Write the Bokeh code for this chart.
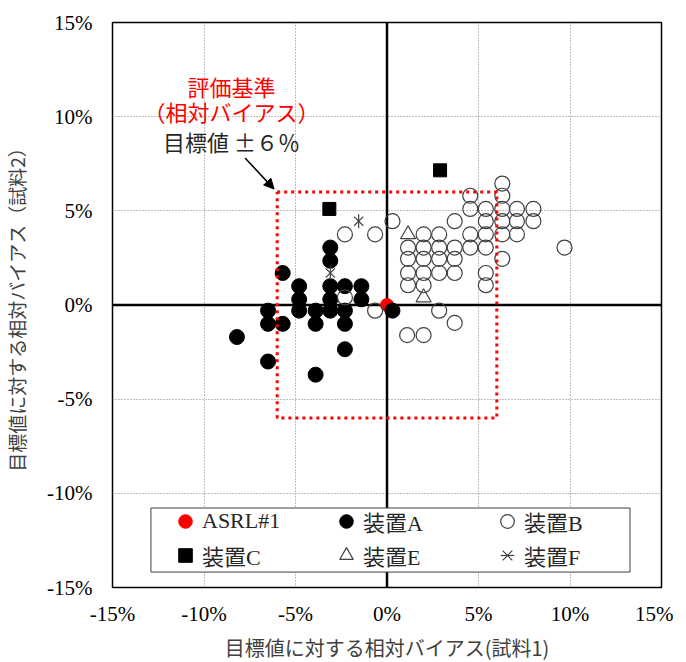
from bokeh.plotting import figure
from bokeh.models import (FixedTicker, Span, Legend, LegendItem, BoxAnnotation,
                          Label, Arrow, NormalHead, Range1d)
from bokeh.embed import file_html
from bokeh.resources import INLINE

# ---------------- data (relative bias, %) ----------------
asrl_x = [0.0]
asrl_y = [0.0]

a_x = [-5.7, -3.1, -3.1, -4.8, -4.8, -4.8, -3.1, -3.1, -3.1, -2.3, -2.3, -2.3,
       -2.3, -1.4, -1.4, -3.9, -3.9, -3.9, -6.5, -6.5, -5.7, -8.2, -6.5, 0.3]
a_y = [1.7, 3.05, 2.35, 1.0, 0.3, -0.3, 1.0, 0.3, -0.3, 1.0, -0.3, -1.0,
       -2.35, 1.0, 0.3, -0.3, -1.0, -3.7, -0.3, -1.0, -1.0, -1.7, -3.0, -0.3]

b_x = [-2.3, -0.65, 1.1, 2.0, -2.3, -0.65, 0.3, 3.7, 4.55, 4.55, 5.4, 6.3,
       6.3, 6.3, 6.3, 6.3, 6.3, 7.1, 7.1, 7.1, 8.0, 8.0, 5.4, 5.4,
       5.4, 5.4, 5.4, 4.55, 4.55, 3.7, 3.7, 3.7, 2.85, 2.85, 2.85, 2.85,
       2.0, 2.0, 2.0, 2.0, 2.0, 1.15, 1.15, 1.15, 1.15, 2.85, 3.7, 9.7]
b_y = [0.4, -0.3, -1.6, -1.6, 3.75, 3.75, 4.45, 4.45, 5.8, 5.1, 5.1, 6.45,
       5.8, 5.1, 4.45, 3.75, 2.45, 5.1, 4.45, 3.75, 5.1, 4.45, 4.45, 3.75,
       3.05, 1.7, 1.05, 3.75, 3.05, 3.05, 2.45, 1.7, 3.75, 3.05, 2.45, 1.7,
       3.75, 3.05, 2.45, 1.7, 1.05, 3.05, 2.45, 1.7, 1.05, -0.3, -0.95, 3.05]

c_x = [2.9, -3.15]
c_y = [7.15, 5.1]

e_x = [1.15, 2.0]
e_y = [3.75, 0.4]

f_x = [-1.55, -3.1]
f_y = [4.45, 1.7]

criterion = 6.0  # target +/- 6 %

ticks = [-15, -10, -5, 0, 5, 10, 15]
tick_labels = ["-15%", "-10%", "-5%", "0%", "5%", "10%", "15%"]
grid_ticks = [-10, -5, 5, 10]

series_names = ["ASRL#1", "装置A", "装置B", "装置C", "装置E", "装置F"]

x_title = "目標値に対する相対バイアス(試料1)"
y_title = "目標値に対する相対バイアス（試料2）"
note_lines = ["評価基準", "（相対バイアス）", "目標値 ±６％"]

# ---------------- figure ----------------
SERIF = "Liberation Serif, Noto Sans CJK JP"
CJK = "Noto Sans CJK JP"

p = figure(frame_width=549, frame_height=565,
           x_range=Range1d(-15, 15), y_range=Range1d(-15, 15),
           output_backend="svg", toolbar_location=None,
           min_border_left=109, min_border_right=12,
           min_border_top=22, min_border_bottom=60)
p.background_fill_color = "white"
p.border_fill_color = "white"
p.outline_line_color = "black"
p.outline_line_width = 1.5

overrides = {t: lab for t, lab in zip(ticks, tick_labels)}
for ax in (p.xaxis[0], p.yaxis[0]):
    ax.ticker = FixedTicker(ticks=ticks)
    ax.major_label_overrides = overrides
    ax.axis_line_color = None
    ax.major_tick_line_color = None
    ax.minor_tick_line_color = None
    ax.major_label_text_font = "Liberation Serif"
    ax.major_label_text_font_size = "21px"
    ax.major_label_text_color = "black"
    ax.axis_label_text_font = CJK
    ax.axis_label_text_font_style = "normal"
    ax.axis_label_text_color = "#404040"

p.xaxis.axis_label = x_title
p.yaxis.axis_label = y_title
p.xaxis.axis_label_text_font_size = "20px"
p.yaxis.axis_label_text_font_size = "19px"
p.xaxis.major_label_standoff = 8
p.yaxis.major_label_standoff = 14
p.xaxis.axis_label_standoff = 4
p.yaxis.axis_label_standoff = 14

for g in (p.xgrid[0], p.ygrid[0]):
    g.ticker = FixedTicker(ticks=grid_ticks)
    g.grid_line_color = "#7f7f7f"
    g.grid_line_dash = "1 2"
    g.grid_line_width = 1

p.add_layout(Span(location=0, dimension="height", line_color="black",
                  line_width=2.5, level="underlay"))
p.add_layout(Span(location=0, dimension="width", line_color="black",
                  line_width=2.5, level="underlay"))

# ---------------- series ----------------
r_asrl = p.scatter(asrl_x, asrl_y, marker="circle", size=13,
                   fill_color="#ff0000", line_color="#ff0000")
r_a = p.scatter(a_x, a_y, marker="circle", size=15,
                fill_color="black", line_color="black")
r_b = p.scatter(b_x, b_y, marker="circle", size=15,
                fill_color=None, line_color="#404040", line_width=1.2)
r_c = p.scatter(c_x, c_y, marker="square", size=13,
                fill_color="black", line_color="black")
r_e = p.scatter(e_x, e_y, marker="triangle", size=15,
                fill_color=None, line_color="#404040", line_width=1.2)
r_f1 = p.scatter(f_x, f_y, marker="x", size=13,
                 line_color="#404040", line_width=1.2)
r_f2 = p.scatter(f_x, f_y, marker="dash", size=14, angle=1.5708,
                 line_color="#404040", line_width=1.2)

# criterion box (+/- 6 %)
bx = [-criterion, criterion, criterion, -criterion, -criterion]
by = [criterion, criterion, -criterion, -criterion, criterion]
p.line(bx, by, line_color="#ff0000", line_width=3, line_dash="3 4")

# ---------------- annotation ----------------
note_colors = ["#ff0000", "#ff0000", "#262626"]
note_y = [11.63, 10.3, 8.71]
for txt, col, yy in zip(note_lines, note_colors, note_y):
    p.add_layout(Label(x=-8.5, y=yy, text=txt, text_align="center",
                       text_baseline="middle", text_color=col,
                       text_font=CJK, text_font_size="22px"))

p.add_layout(Arrow(end=NormalHead(size=10, fill_color="black", line_color="black"),
                   x_start=-7.76, y_start=7.81, x_end=-6.17, y_end=6.16,
                   line_color="black", line_width=1.5))

# ---------------- legend ----------------
p.add_layout(BoxAnnotation(left=-12.9, right=13.28, top=-10.78, bottom=-14.18,
                           fill_color="white", fill_alpha=1.0,
                           line_color="#404040", line_width=1, line_alpha=1.0))

renderer_groups = [[r_asrl], [r_a], [r_b], [r_c], [r_e], [r_f1, r_f2]]
items = [LegendItem(label=n, renderers=rs) for n, rs in zip(series_names, renderer_groups)]
legend = Legend(items=items, orientation="horizontal", ncols=3,
                location=(56, 15), glyph_width=34, glyph_height=34,
                label_standoff=-4, label_width=127, spacing=-2, padding=0,
                border_line_color=None, background_fill_alpha=0,
                label_text_font=SERIF, label_text_font_size="22px",
                label_text_color="#262626")
p.add_layout(legend)

open("out.html", "w").write(file_html(p, INLINE))
